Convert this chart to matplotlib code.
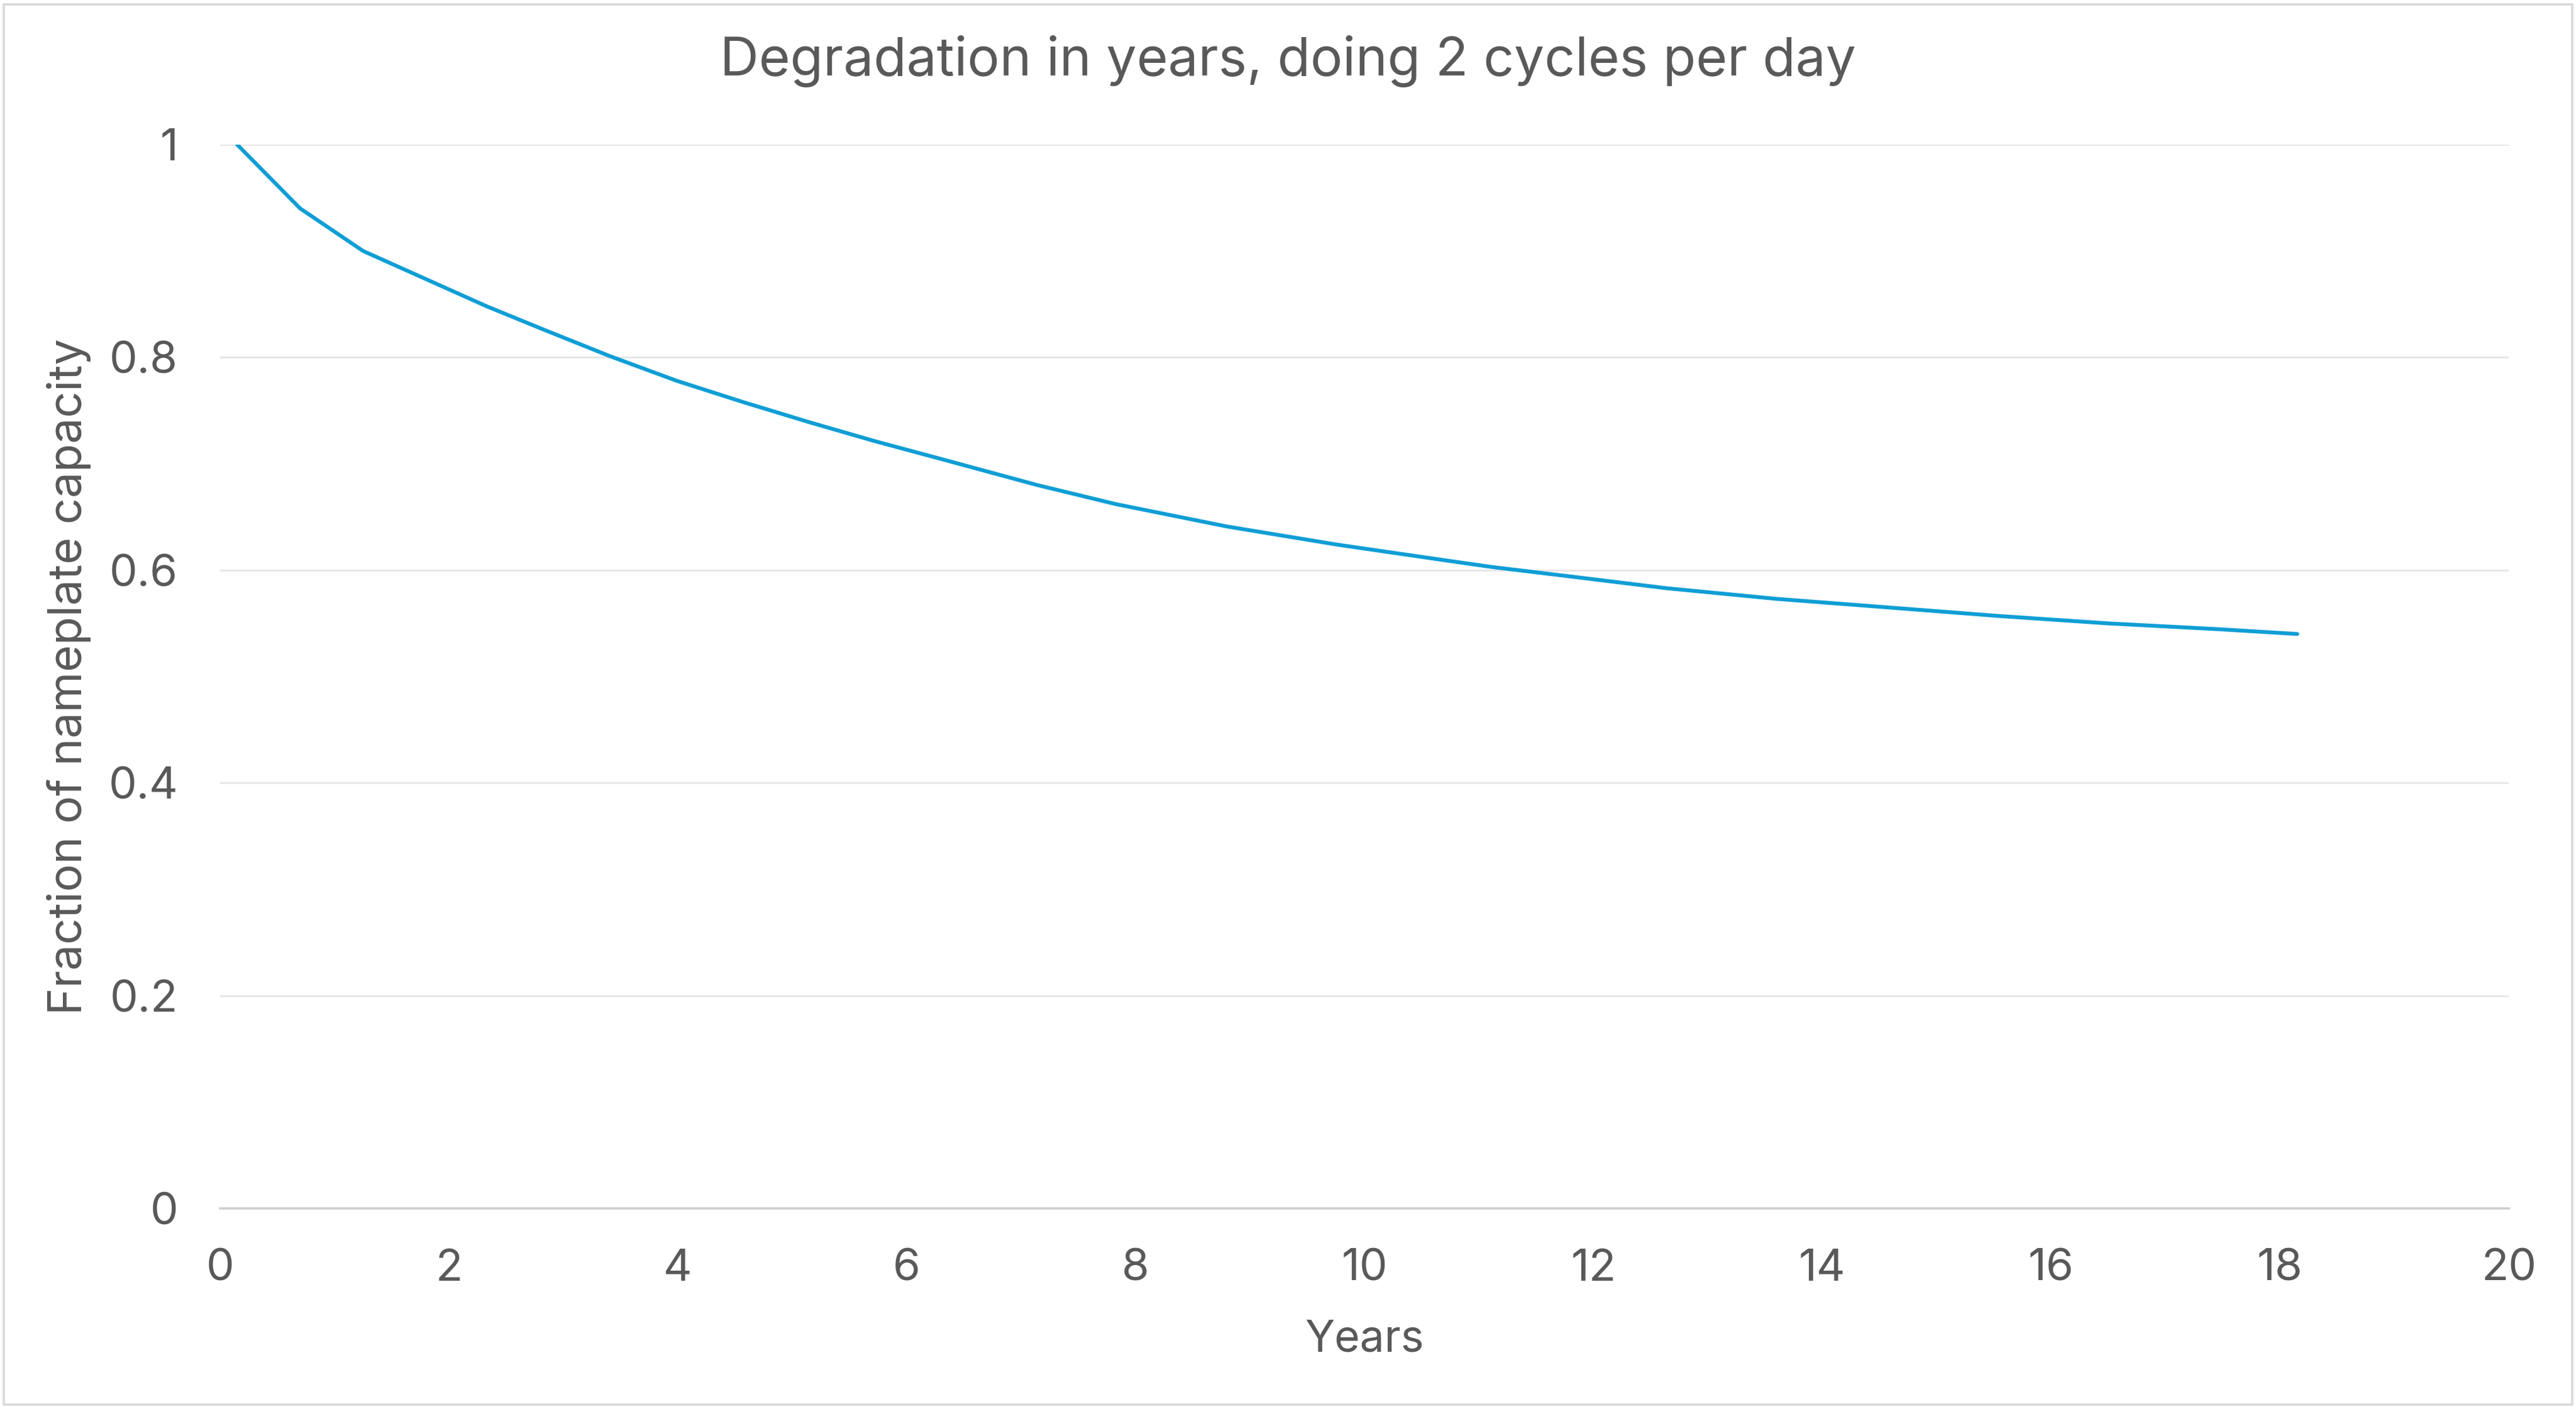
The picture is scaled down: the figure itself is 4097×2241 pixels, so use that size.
import matplotlib.pyplot as plt
from matplotlib.patches import Rectangle

# values
years = [0.15, 0.70, 1.25, 1.79, 2.33, 2.83, 3.41, 3.99, 4.57, 5.15, 5.73,
         6.30, 7.14, 7.83, 8.80, 9.76, 10.72, 11.11, 11.88, 12.64, 13.60,
         14.57, 15.53, 16.49, 17.46, 18.15]
capacity = [1.0, 0.94, 0.90, 0.874, 0.848, 0.826, 0.801, 0.778, 0.758, 0.739,
            0.721, 0.7045, 0.680, 0.662, 0.641, 0.624, 0.609, 0.603, 0.593,
            0.583, 0.573, 0.565, 0.557, 0.550, 0.5445, 0.540]

x_ticks = [0, 2, 4, 6, 8, 10, 12, 14, 16, 18, 20]
y_ticks = [0, 0.2, 0.4, 0.6, 0.8, 1]
y_tick_labels = ["0", "0.2", "0.4", "0.6", "0.8", "1"]

text_color = "#595959"
line_color = "#0f9ed5"

plt.rcParams["font.family"] = ["Inter", "DejaVu Sans"]

fig = plt.figure(figsize=(20.485, 11.205), dpi=200)
ax = fig.add_axes([0.0854, 0.1423, 0.974 - 0.0854, 0.8974 - 0.1423])

ax.plot(years, capacity, color=line_color, linewidth=2.2,
        solid_capstyle="round", solid_joinstyle="round", zorder=3)

ax.set_xlim(0, 20)
ax.set_ylim(0, 1)
ax.set_xticks(x_ticks)
ax.set_yticks(y_ticks)
ax.set_yticklabels(y_tick_labels)

ax.grid(axis="y", color="#e6e6e6", linewidth=1.0)
ax.set_axisbelow(True)
for side in ["top", "right", "left"]:
    ax.spines[side].set_visible(False)
ax.spines["bottom"].set_color("#cfcfcf")
ax.spines["bottom"].set_linewidth(1.3)

ax.tick_params(axis="both", length=0, labelsize=25.5, labelcolor=text_color)
ax.tick_params(axis="y", pad=24)
ax.tick_params(axis="x", pad=23)

ax.set_xlabel("Years", fontsize=25, color=text_color, va="center")
ax.set_ylabel("Fraction of nameplate capacity", fontsize=26.5,
              color=text_color, va="center")
ax.xaxis.set_label_coords(0.5, -0.1235)
ax.yaxis.set_label_coords(-0.066, 0.5)

fig.text(0.5, 0.9567, "Degradation in years, doing 2 cycles per day",
         ha="center", va="center", fontsize=30.8, color=text_color)

fig.patches.append(Rectangle((0.0015, 0.003), 0.997, 0.994,
                             transform=fig.transFigure, fill=False,
                             edgecolor="#d9d9d9", linewidth=1.3))

fig.savefig("out.png", dpi=200, facecolor="white")
